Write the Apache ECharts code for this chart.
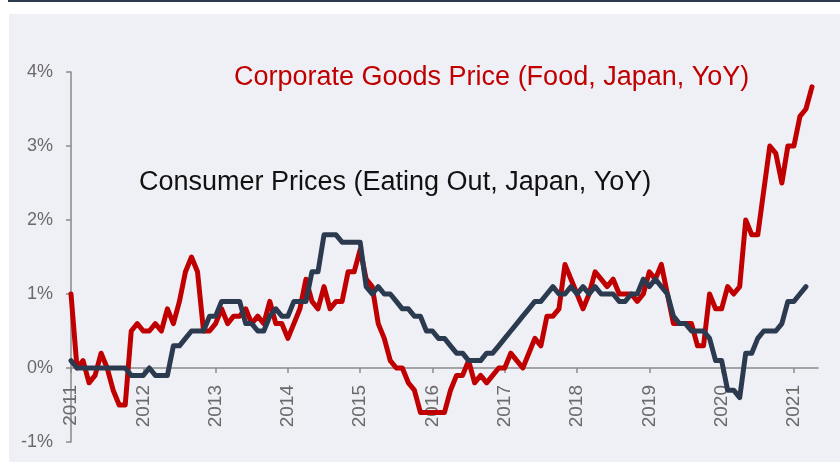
<!DOCTYPE html>
<html>
<head>
<meta charset="utf-8">
<script src="https://cdn.jsdelivr.net/npm/echarts@6/dist/echarts.min.js"></script>
<style>
  html, body { margin: 0; padding: 0; background: #ffffff; }
  #chart { width: 840px; height: 462px; }
</style>
</head>
<body>
<div id="chart"></div>
<script>
// Year tick labels; the axis runs monthly from Jan 2011 to May 2021
const years = ['2011', '2012', '2013', '2014', '2015', '2016', '2017', '2018', '2019', '2020', '2021'];
const lastMonthOf2021 = 5;

// Corporate goods price index, food (Japan), YoY %, monthly from Jan 2011
const corporateFood = [
  1.0, 0.0, 0.1, -0.2, -0.1, 0.2, 0.0, -0.3, -0.5, -0.5,
  0.5, 0.6, 0.5, 0.5, 0.6, 0.5, 0.8, 0.6, 0.9, 1.3,
  1.5, 1.3, 0.5, 0.5, 0.6, 0.8, 0.6, 0.7, 0.7, 0.8,
  0.6, 0.7, 0.6, 0.9, 0.6, 0.6, 0.4, 0.6, 0.8, 1.2,
  0.9, 0.8, 1.1, 0.8, 0.9, 0.9, 1.3, 1.3, 1.6, 1.2,
  1.1, 0.6, 0.4, 0.1, 0.0, 0.0, -0.2, -0.3, -0.6, -0.6,
  -0.6, -0.6, -0.6, -0.3, -0.1, -0.1, 0.1, -0.2, -0.1, -0.2,
  -0.1, 0.0, 0.0, 0.2, 0.1, 0.0, 0.2, 0.4, 0.3, 0.7,
  0.7, 0.8, 1.4, 1.2, 1.0, 0.8, 1.0, 1.3, 1.2, 1.1,
  1.2, 1.0, 1.0, 1.0, 0.9, 1.0, 1.3, 1.2, 1.4, 1.0,
  0.6, 0.6, 0.6, 0.6, 0.3, 0.3, 1.0, 0.8, 0.8, 1.1,
  1.0, 1.1, 2.0, 1.8, 1.8, 2.4, 3.0, 2.9, 2.5, 3.0,
  3.0, 3.4, 3.5, 3.8
];

// Consumer prices, eating out (Japan), YoY %, monthly from Jan 2011
const eatingOut = [
  0.1, 0.0, 0.0, 0.0, 0.0, 0.0, 0.0, 0.0, 0.0, 0.0,
  -0.1, -0.1, -0.1, 0.0, -0.1, -0.1, -0.1, 0.3, 0.3, 0.4,
  0.5, 0.5, 0.5, 0.7, 0.7, 0.9, 0.9, 0.9, 0.9, 0.6,
  0.6, 0.5, 0.5, 0.7, 0.8, 0.7, 0.7, 0.9, 0.9, 0.9,
  1.3, 1.3, 1.8, 1.8, 1.8, 1.7, 1.7, 1.7, 1.7, 1.1,
  1.0, 1.1, 1.0, 1.0, 0.9, 0.8, 0.8, 0.7, 0.7, 0.5,
  0.5, 0.4, 0.4, 0.3, 0.2, 0.2, 0.1, 0.1, 0.1, 0.2,
  0.2, 0.3, 0.4, 0.5, 0.6, 0.7, 0.8, 0.9, 0.9, 1.0,
  1.1, 1.0, 1.0, 1.1, 1.0, 1.1, 1.0, 1.1, 1.0, 1.0,
  1.0, 0.9, 0.9, 1.0, 1.0, 1.2, 1.1, 1.2, 1.1, 1.0,
  0.7, 0.6, 0.6, 0.5, 0.5, 0.5, 0.4, 0.1, 0.1, -0.3,
  -0.3, -0.4, 0.2, 0.2, 0.4, 0.5, 0.5, 0.5, 0.6, 0.9,
  0.9, 1.0, 1.1
];

const seriesNames = ['Corporate Goods Price (Food, Japan, YoY)', 'Consumer Prices (Eating Out, Japan, YoY)'];

// Monthly category labels, e.g. "2011-01"
const months = [];
years.forEach(function (y, k) {
  const n = (k === years.length - 1) ? lastMonthOf2021 : 12;
  for (let m = 1; m <= n; m++) months.push(y + '-' + (m < 10 ? '0' + m : m));
});

const isJanuary = function (index) { return index % 12 === 0; };
const axisGrey = '#8a8a8a';
const labelGrey = '#6a6a6a';
const fontFamily = '"Liberation Sans", Arial, sans-serif';

const chart = echarts.init(document.getElementById('chart'), null, { renderer: 'canvas' });

chart.setOption({
  animation: false,
  backgroundColor: '#ffffff',
  graphic: [
    { type: 'rect', z: -10, silent: true, shape: { x: 9, y: 14, width: 831, height: 448 }, style: { fill: '#eff0f5' } },
    { type: 'rect', z: -10, silent: true, shape: { x: 8, y: 0, width: 832, height: 2 }, style: { fill: '#2c3a50' } }
  ],
  title: [
    {
      text: seriesNames[0], left: 234, top: 64, padding: 0,
      textStyle: { color: '#c00000', fontSize: 27, fontWeight: 'normal', fontFamily: fontFamily }
    },
    {
      text: seriesNames[1], left: 139, top: 169, padding: 0,
      textStyle: { color: '#111111', fontSize: 27, fontWeight: 'normal', fontFamily: fontFamily }
    }
  ],
  grid: { left: 71, right: 22, top: 72, bottom: 20, containLabel: false, outerBoundsMode: 'none' },
  xAxis: {
    type: 'category',
    data: months,
    boundaryGap: false,
    axisLine: { onZero: true, lineStyle: { color: axisGrey, width: 1.5 } },
    axisTick: { show: true, interval: function (i) { return isJanuary(i); }, length: 5, lineStyle: { color: axisGrey, width: 1.5 } },
    axisLabel: {
      interval: function (i) { return isJanuary(i); },
      formatter: function (v) { return v.slice(0, 4); },
      rotate: 90,
      margin: -57,
      padding: [10, 0, 0, 0],
      color: labelGrey,
      fontSize: 19,
      fontFamily: fontFamily,
      hideOverlap: false
    },
    splitLine: { show: false }
  },
  yAxis: {
    type: 'value',
    min: -1,
    max: 4,
    interval: 1,
    axisLine: { show: true, lineStyle: { color: axisGrey, width: 1.5 } },
    axisTick: { show: true, length: 5, lineStyle: { color: axisGrey, width: 1.5 } },
    axisLabel: {
      formatter: function (v) { return v + '%'; },
      margin: 18,
      color: labelGrey,
      fontSize: 18,
      fontFamily: fontFamily
    },
    splitLine: { show: false }
  },
  series: [
    {
      name: seriesNames[0],
      type: 'line',
      data: corporateFood,
      showSymbol: false,
      symbol: 'none',
      lineStyle: { color: '#c00000', width: 5, join: 'round', cap: 'round' },
      z: 2
    },
    {
      name: seriesNames[1],
      type: 'line',
      data: eatingOut,
      showSymbol: false,
      symbol: 'none',
      lineStyle: { color: '#2c3a50', width: 5, join: 'round', cap: 'round' },
      z: 3
    }
  ]
});
</script>
</body>
</html>
